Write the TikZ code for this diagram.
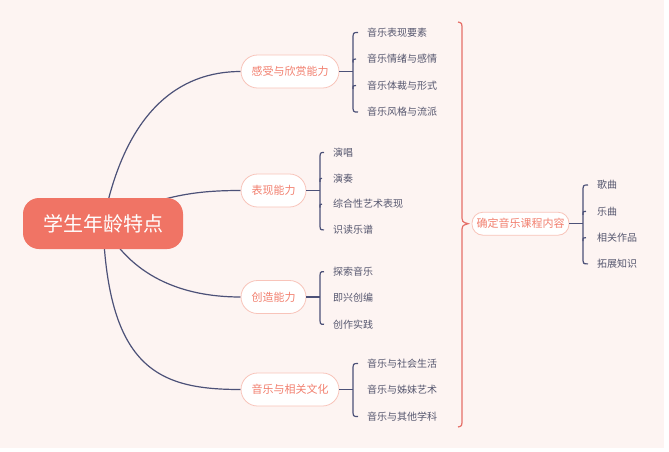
\documentclass[tikz,border=0pt]{standalone}
\usepackage{fontspec}
\setmainfont{Noto Sans CJK SC}
\usetikzlibrary{calc,backgrounds}
\definecolor{bgpink}{HTML}{FDF4F2}
\definecolor{rootred}{HTML}{F07465}
\definecolor{mainred}{HTML}{F2806F}
\definecolor{edgepink}{HTML}{F8C4BA}
\definecolor{linkblue}{HTML}{4C5178}
\definecolor{leafgray}{HTML}{55566E}
\definecolor{sumred}{HTML}{E56F68}
\tikzset{
  mm_root/.style = {rectangle, rounded corners=16pt, fill=rootred, text=white, font=\fontsize{20}{24}\selectfont, minimum width=160pt, minimum height=51pt, inner sep=0pt},
  mm_main/.style = {rectangle, rounded corners=16.5pt, draw=edgepink, line width=0.8pt, fill=white, text=mainred, font=\fontsize{11}{13}\selectfont, minimum height=33pt, inner xsep=10.5pt, inner ysep=0pt},
  mm_sumnode/.style = {mm_main, rounded corners=11pt, minimum height=23pt, inner xsep=4.5pt},
  mm_leaf/.style = {anchor=west, inner sep=0pt, text=leafgray, font=\fontsize{10}{12}\selectfont},
  mm_link/.style = {draw=linkblue, line width=1.2pt},
  mm_sum/.style = {draw=sumred, line width=1.2pt}
}
\begin{document}
\begin{tikzpicture}[x=1pt,y=-1pt]
	\useasboundingbox (0,0) rectangle (669,451);
	\begin{scope}[on background layer]
		\fill[bgpink] (0,0) rectangle (664,448);
	\end{scope}
	\node [mm_root] (root) at (103,223.5) {学生年龄特点};
	\node [mm_main] (gan) at (290,71.5) {感受与欣赏能力};
	\node [mm_main] (biao) at (273.5,190.5) {表现能力};
	\node [mm_main] (chuang) at (273.5,297) {创造能力};
	\node [mm_main] (wen) at (290,389.5) {音乐与相关文化};
	\node [mm_sumnode] (que) at (520.5,223.7) {确定音乐课程内容};
	\node [mm_leaf] (g1) at (367,32.5) {音乐表现要素};
	\node [mm_leaf] (g2) at (367,59) {音乐情绪与感情};
	\node [mm_leaf] (g3) at (367,85.5) {音乐体裁与形式};
	\node [mm_leaf] (g4) at (367,112) {音乐风格与流派};
	\node [mm_leaf] (b1) at (333,152.5) {演唱};
	\node [mm_leaf] (b2) at (333,178.3) {演奏};
	\node [mm_leaf] (b3) at (333,204.1) {综合性艺术表现};
	\node [mm_leaf] (b4) at (333,229.9) {识读乐谱};
	\node [mm_leaf] (c1) at (333,271.7) {探索音乐};
	\node [mm_leaf] (c2) at (333,298) {即兴创编};
	\node [mm_leaf] (c3) at (333,324.3) {创作实践};
	\node [mm_leaf] (w1) at (367,363.5) {音乐与社会生活};
	\node [mm_leaf] (w2) at (367,390) {音乐与姊妹艺术};
	\node [mm_leaf] (w3) at (367,416.5) {音乐与其他学科};
	\node [mm_leaf] (q1) at (597,185) {歌曲};
	\node [mm_leaf] (q2) at (597,211.3) {乐曲};
	\node [mm_leaf] (q3) at (597,237.6) {相关作品};
	\node [mm_leaf] (q4) at (597,263.9) {拓展知识};
	\begin{scope}[on background layer]
		\draw [mm_link] (root.center) .. controls (125,110) and (180,71.5) .. (gan.west);
		\draw [mm_link] (root.center) .. controls (160,194) and (200,190.5) .. (biao.west);
		\draw [mm_link] (root.center) .. controls (130,275) and (180,297) .. (chuang.west);
		\draw [mm_link] (root.center) .. controls (108,370) and (160,389.5) .. (wen.west);
	\end{scope}
	\draw [mm_link] (gan.east) -- ++(14,0);
	\draw [mm_link] ([xshift=-9pt]g1.west) .. controls (353,32.5) .. (353,40) -- (353,105) .. controls (353,112) .. ([xshift=-9pt]g4.west);
	\draw [mm_link] (353,62.5) .. controls (353,59) .. ([xshift=-11pt]g2.west);
	\draw [mm_link] (353,89) .. controls (353,85.5) .. ([xshift=-11pt]g3.west);
	\draw [mm_link] (biao.east) -- ++(14,0);
	\draw [mm_link] ([xshift=-9pt]b1.west) .. controls (320,152.5) .. (320,160) -- (320,223) .. controls (320,229.9) .. ([xshift=-9pt]b4.west);
	\draw [mm_link] (320,181.8) .. controls (320,178.3) .. ([xshift=-11pt]b2.west);
	\draw [mm_link] (320,207.6) .. controls (320,204.1) .. ([xshift=-11pt]b3.west);
	\draw [mm_link] (chuang.east) -- ++(14,0);
	\draw [mm_link] ([xshift=-9pt]c1.west) .. controls (320,271.7) .. (320,279) -- (320,317) .. controls (320,324.3) .. ([xshift=-9pt]c3.west);
	\draw [mm_link] (wen.east) -- ++(14,0);
	\draw [mm_link] ([xshift=-9pt]w1.west) .. controls (353,363.5) .. (353,371) -- (353,409) .. controls (353,416.5) .. ([xshift=-9pt]w3.west);
	\draw [mm_link] (que.east) -- ++(14,0);
	\draw [mm_link] ([xshift=-9pt]q1.west) .. controls (583,185) .. (583,192) -- (583,257) .. controls (583,263.9) .. ([xshift=-9pt]q4.west);
	\draw [mm_link] (583,214.8) .. controls (583,211.3) .. ([xshift=-11pt]q2.west);
	\draw [mm_link] (583,241.1) .. controls (583,237.6) .. ([xshift=-11pt]q3.west);
	\draw [mm_sum] (458,22) .. controls (462,23) .. (462,30) -- (462,214) .. controls (462,222) .. ([xshift=-3.5pt]que.west) .. controls (462,225.5) .. (462,233) -- (462,419) .. controls (462,426) .. (458,427);
\end{tikzpicture}
\end{document}
